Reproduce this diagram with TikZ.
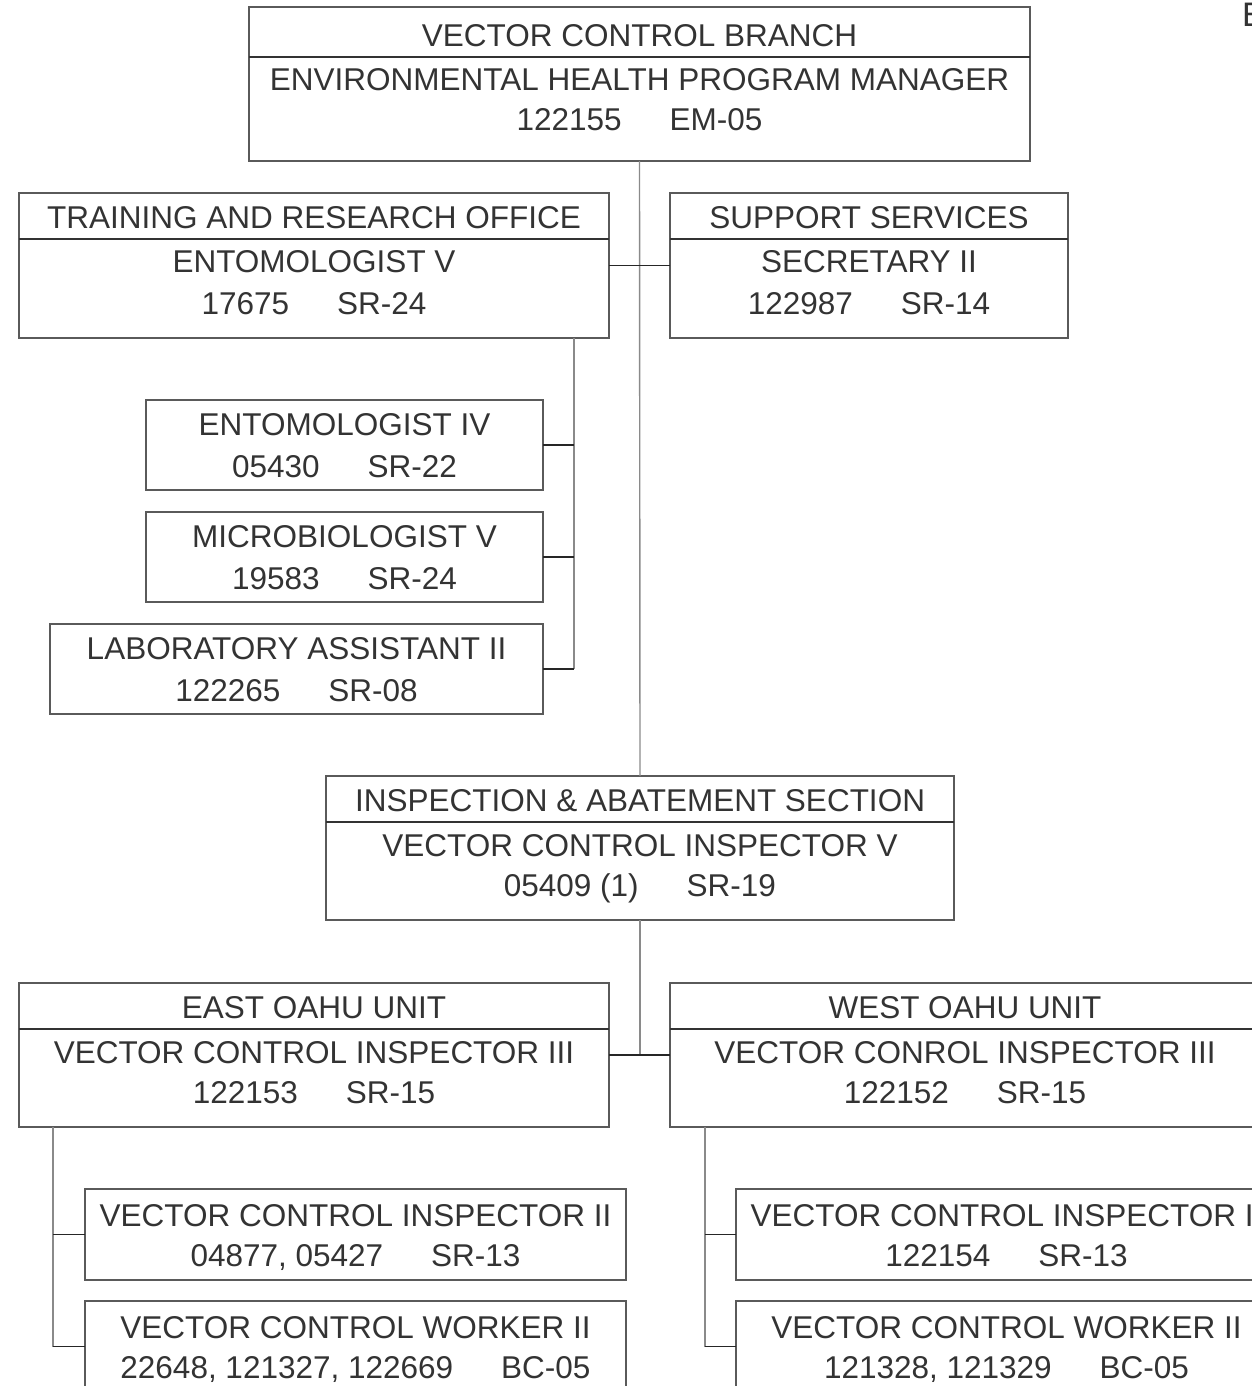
\documentclass[tikz,border=0pt]{standalone}
\usepackage{fontspec}
\setmainfont{Liberation Sans}
\definecolor{boxgray}{HTML}{5A5A5A}
\definecolor{txtgray}{HTML}{333333}
\definecolor{trunkgray}{HTML}{8A8A8A}
\begin{document}
\begin{tikzpicture}[x=1pt, y=-1pt,
    postbox/.style={draw=boxgray, line width=1.4pt, inner sep=0pt, outer sep=0pt, rectangle},
    lbl/.style={anchor=base, text=txtgray, inner sep=0pt, font=\fontsize{31.5}{41}\selectfont},
    divider/.style={draw=black!80, line width=1.2pt},
    trunk/.style={draw=trunkgray, line width=1.4pt},
    branchline/.style={draw=black!85, line width=1.2pt}]
    \useasboundingbox (0,0) rectangle (1252,1386);
    \clip (0,0) rectangle (1252,1386);

    % branch head
    \node[postbox, minimum width=781pt, minimum height=154pt] (branch) at (639.5,84) {};
    \draw[divider] ([yshift=-50pt]branch.north west) -- ([yshift=-50pt]branch.north east);
    \node[lbl] (branchname) at (639.5,47) {VECTOR CONTROL BRANCH};
    \node[lbl] (branchtitle) at (639.5,91) {ENVIRONMENTAL HEALTH PROGRAM MANAGER};
    \node[lbl] (branchnum) at (639.5,131) {122155\hspace{48pt}EM-05};

    % training and research office
    \node[postbox, minimum width=590pt, minimum height=145pt] (tro) at (314,265.5) {};
    \draw[divider] ([yshift=-46pt]tro.north west) -- ([yshift=-46pt]tro.north east);
    \node[lbl] (troname) at (314,228) {TRAINING AND RESEARCH OFFICE};
    \node[lbl] (trotitle) at (314,272) {ENTOMOLOGIST V};
    \node[lbl] (tronum) at (314,314) {17675\hspace{48pt}SR-24};

    % support services
    \node[postbox, minimum width=398pt, minimum height=145pt] (supp) at (869,265.5) {};
    \draw[divider] ([yshift=-46pt]supp.north west) -- ([yshift=-46pt]supp.north east);
    \node[lbl] (suppname) at (869,228) {SUPPORT SERVICES};
    \node[lbl] (supptitle) at (869,272) {SECRETARY II};
    \node[lbl] (suppnum) at (869,314) {122987\hspace{48pt}SR-14};

    % staff under the office
    \node[postbox, minimum width=397pt, minimum height=90pt] (ent4) at (344.5,445) {};
    \node[lbl] (ent4title) at (344.5,435) {ENTOMOLOGIST IV};
    \node[lbl] (ent4num) at (344.5,477) {05430\hspace{48pt}SR-22};

    \node[postbox, minimum width=397pt, minimum height=90pt] (micro) at (344.5,557) {};
    \node[lbl] (microtitle) at (344.5,547) {MICROBIOLOGIST V};
    \node[lbl] (micronum) at (344.5,589) {19583\hspace{48pt}SR-24};

    \node[postbox, minimum width=493pt, minimum height=90pt] (lab) at (296.5,669) {};
    \node[lbl] (labtitle) at (296.5,659) {LABORATORY ASSISTANT II};
    \node[lbl] (labnum) at (296.5,701) {122265\hspace{48pt}SR-08};

    % inspection and abatement section
    \node[postbox, minimum width=628pt, minimum height=144pt] (insp) at (640,848) {};
    \draw[divider] ([yshift=-46pt]insp.north west) -- ([yshift=-46pt]insp.north east);
    \node[lbl] (inspname) at (640,811) {INSPECTION \& ABATEMENT SECTION};
    \node[lbl] (insptitle) at (640,856) {VECTOR CONTROL INSPECTOR V};
    \node[lbl] (inspnum) at (640,896) {05409 (1)\hspace{48pt}SR-19};

    % units
    \node[postbox, minimum width=590pt, minimum height=144pt] (east) at (314,1055) {};
    \draw[divider] ([yshift=-46pt]east.north west) -- ([yshift=-46pt]east.north east);
    \node[lbl] (eastname) at (314,1018) {EAST OAHU UNIT};
    \node[lbl] (easttitle) at (314,1063) {VECTOR CONTROL INSPECTOR III};
    \node[lbl] (eastnum) at (314,1103) {122153\hspace{48pt}SR-15};

    \node[postbox, minimum width=590pt, minimum height=144pt] (west) at (965,1055) {};
    \draw[divider] ([yshift=-46pt]west.north west) -- ([yshift=-46pt]west.north east);
    \node[lbl] (westname) at (965,1018) {WEST OAHU UNIT};
    \node[lbl] (westtitle) at (965,1063) {VECTOR CONROL INSPECTOR III};
    \node[lbl] (westnum) at (965,1103) {122152\hspace{48pt}SR-15};

    % east unit staff
    \node[postbox, minimum width=541pt, minimum height=91pt] (eastinsp) at (355.5,1234.5) {};
    \node[lbl] (eastinsptitle) at (355.5,1226) {VECTOR CONTROL INSPECTOR II};
    \node[lbl] (eastinspnum) at (355.5,1266) {04877, 05427\hspace{48pt}SR-13};

    \node[postbox, minimum width=541pt, minimum height=91pt] (eastwork) at (355.5,1346.5) {};
    \node[lbl] (eastworktitle) at (355.5,1338) {VECTOR CONTROL WORKER II};
    \node[lbl] (eastworknum) at (355.5,1378) {22648, 121327, 122669\hspace{48pt}BC-05};

    % west unit staff
    \node[postbox, minimum width=541pt, minimum height=91pt] (westinsp) at (1006.5,1234.5) {};
    \node[lbl] (westinsptitle) at (1006.5,1226) {VECTOR CONTROL INSPECTOR II};
    \node[lbl] (westinspnum) at (1006.5,1266) {122154\hspace{48pt}SR-13};

    \node[postbox, minimum width=541pt, minimum height=91pt] (westwork) at (1006.5,1346.5) {};
    \node[lbl] (westworktitle) at (1006.5,1338) {VECTOR CONTROL WORKER II};
    \node[lbl] (westworknum) at (1006.5,1378) {121328, 121329\hspace{48pt}BC-05};

    \node[anchor=north west, text=txtgray, inner sep=0pt, font=\fontsize{34}{40}\selectfont] (corner) at (1242,3) {E};

    % connectors
    \coordinate (trotap) at (574,338);
    \coordinate (easttap) at (53,1127);
    \coordinate (westtap) at (705,1127);
    \draw[trunk] (branch.south) -- (insp.north);
    \draw[trunk] (insp.south) -- (insp.south |- east.east);
    \draw[trunk] (trotap) -- (trotap |- lab.east);
    \draw[trunk] (easttap) -- (easttap |- eastwork.west);
    \draw[trunk] (westtap) -- (westtap |- westwork.west);
    \draw[branchline] (tro.east) -- (supp.west);
    \draw[branchline] (east.east) -- (west.west);
    \foreach \b in {ent4, micro, lab}
        \draw[branchline] (\b.east) -- (\b.east -| trotap);
    \foreach \b in {eastinsp, eastwork}
        \draw[branchline] (\b.west) -- (\b.west -| easttap);
    \foreach \b in {westinsp, westwork}
        \draw[branchline] (\b.west) -- (\b.west -| westtap);
\end{tikzpicture}
\end{document}
